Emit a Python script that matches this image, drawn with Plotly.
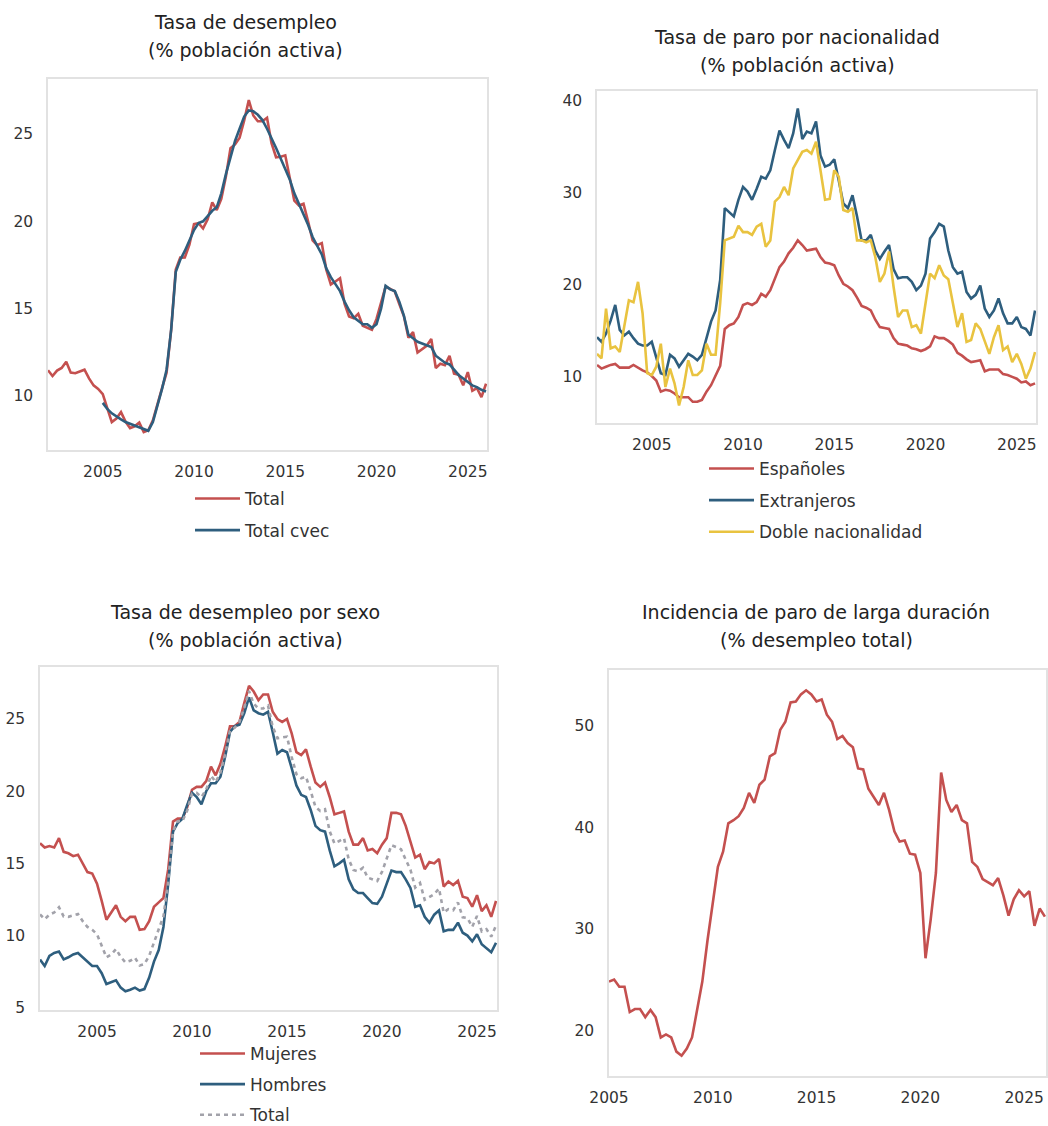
import pandas as pd
import plotly.graph_objects as go

# ---------------- data ----------------
quarters = pd.date_range("2002-01-01", "2026-01-01", freq="QS")      # 2002Q1 .. 2026Q1
quarters_ld = pd.date_range("2005-01-01", "2026-01-01", freq="QS")   # 2005Q1 .. 2026Q1
year_ticks = [2005, 2010, 2015, 2020, 2025]

total = [
    11.47, 11.14, 11.45, 11.60,
    11.96, 11.33, 11.30, 11.38,
    11.50, 11.00, 10.60, 10.40,
    10.10, 9.30, 8.50, 8.70,
    9.07, 8.53, 8.15, 8.26,
    8.47, 7.93, 8.03, 8.60,
    9.60, 10.44, 11.33, 13.79,
    17.24, 17.92, 17.93, 18.66,
    19.84, 19.89, 19.59, 20.11,
    21.08, 20.64, 21.28, 22.56,
    24.19, 24.40, 24.79, 25.77,
    26.94, 26.06, 25.73, 25.73,
    25.93, 24.47, 23.67, 23.70,
    23.78, 22.37, 21.18, 20.90,
    21.00, 20.00, 18.91, 18.63,
    18.75, 17.22, 16.38, 16.55,
    16.74, 15.28, 14.55, 14.45,
    14.70, 14.02, 13.92, 13.78,
    14.41, 15.33, 16.26, 16.13,
    15.98, 15.26, 14.57, 13.33,
    13.65, 12.48, 12.67, 12.87,
    13.26, 11.60, 11.84, 11.76,
    12.29, 11.27, 11.21, 10.61,
    11.36, 10.29, 10.45, 9.93,
    10.70,
]

total_cvec = [
    None, None, None, None,
    None, None, None, None,
    None, None, None, None,
    9.60, 9.25, 9.00, 8.80,
    8.65, 8.50, 8.40, 8.30,
    8.20, 8.10, 8.00, 8.50,
    9.40, 10.40, 11.50, 13.80,
    17.10, 17.80, 18.30, 18.90,
    19.50, 19.90, 20.00, 20.30,
    20.60, 20.80, 21.60, 22.70,
    23.70, 24.60, 25.30, 26.00,
    26.35, 26.30, 26.10, 25.80,
    25.30, 24.80, 24.20, 23.60,
    23.00, 22.40, 21.60, 21.00,
    20.40, 19.80, 19.10, 18.60,
    18.10, 17.30, 16.80, 16.40,
    16.00, 15.40, 14.90, 14.50,
    14.30, 14.10, 14.10, 13.90,
    14.10, 15.00, 16.30, 16.10,
    16.00, 15.40, 14.60, 13.50,
    13.30, 13.10, 13.00, 12.90,
    12.80, 12.30, 12.10, 11.90,
    11.80, 11.50, 11.20, 11.00,
    10.80, 10.60, 10.50, 10.35,
    10.25,
]

espanoles = [
    11.3, 10.9, 11.1, 11.3,
    11.4, 11.0, 11.0, 11.0,
    11.3, 11.0, 10.7, 10.5,
    10.1, 9.6, 8.4, 8.6,
    8.5, 8.2, 7.8, 7.8,
    7.8, 7.3, 7.3, 7.5,
    8.4, 9.1, 10.2, 11.2,
    15.2, 15.6, 15.8, 16.5,
    17.8, 18.0, 17.8, 18.1,
    19.0, 18.7, 19.4, 20.7,
    21.9, 22.5, 23.4, 24.0,
    24.8, 24.3, 23.7, 23.8,
    23.9, 23.0, 22.4, 22.3,
    22.1, 21.0, 20.1, 19.8,
    19.4, 18.6, 17.7, 17.5,
    17.2, 16.2, 15.4, 15.3,
    15.2, 14.2, 13.6, 13.5,
    13.4, 13.1, 13.0, 12.8,
    13.0, 13.3, 14.4, 14.2,
    14.2, 13.9, 13.5, 12.6,
    12.3, 11.9, 11.6, 11.7,
    11.8, 10.6, 10.8, 10.8,
    10.8, 10.3, 10.2, 10.0,
    9.8, 9.4, 9.5, 9.1,
    9.3,
]

extranjeros = [
    14.3, 13.8, 14.7, 16.1,
    17.8, 15.1, 14.5, 14.9,
    14.2, 13.6, 13.4, 13.4,
    13.8, 12.2, 10.4, 10.2,
    12.4, 12.0, 11.1, 11.8,
    12.5, 12.2, 11.8, 12.4,
    14.3, 16.0, 17.2, 20.5,
    28.3, 27.9, 27.4, 29.2,
    30.6, 30.1, 29.2, 30.4,
    31.7, 31.5, 32.4, 34.6,
    36.7, 35.7, 34.8, 36.4,
    39.1, 35.8, 36.6, 36.4,
    37.7, 34.0, 32.8, 33.0,
    33.6, 31.3, 28.8, 28.3,
    29.7, 27.4, 24.8, 24.8,
    25.4, 23.7, 22.8, 23.6,
    24.3, 21.7, 20.7, 20.8,
    20.8, 20.3, 19.4, 19.9,
    21.2, 25.0, 25.7, 26.6,
    26.3, 23.7, 21.9, 21.2,
    21.4, 19.2, 18.5, 18.9,
    19.9, 17.4, 16.5, 17.2,
    18.5, 16.9, 15.8, 15.8,
    16.5, 15.4, 15.2, 14.5,
    17.2,
]

doble_nac = [
    12.5, 12.0, 17.4, 13.1,
    13.3, 12.7, 15.5, 18.3,
    18.1, 20.3, 16.9, 10.4,
    10.2, 11.1, 13.6, 8.9,
    10.9, 9.3, 6.9, 8.9,
    11.8, 10.2, 10.2, 10.7,
    13.6, 12.4, 12.4, 18.0,
    24.8, 25.0, 25.2, 26.4,
    25.7, 25.7, 25.4, 26.3,
    26.6, 24.1, 24.8, 29.0,
    29.5, 30.6, 29.7, 32.6,
    33.5, 34.4, 34.6, 34.2,
    35.5, 32.4, 29.2, 29.3,
    32.4, 31.7, 28.1, 27.9,
    28.3, 24.8, 24.8, 24.6,
    24.8, 23.0, 20.3, 21.2,
    23.6, 19.8, 16.5, 17.2,
    17.2, 15.4, 15.6, 14.7,
    18.0, 21.2, 20.7, 22.1,
    21.0, 20.6, 18.0, 15.4,
    16.9, 13.8, 14.0, 15.8,
    15.2, 13.9, 12.5, 14.3,
    15.6, 12.9, 13.3, 11.6,
    12.5, 11.4, 9.8, 10.9,
    12.7,
]

mujeres = [
    16.4, 16.1, 16.2, 16.1,
    16.75, 15.8, 15.7, 15.5,
    15.6, 15.0, 14.4, 14.3,
    13.6, 12.4, 11.1, 11.6,
    12.1, 11.3, 11.0, 11.3,
    11.3, 10.4, 10.45, 11.0,
    12.0, 12.3, 12.6, 14.6,
    17.9, 18.1, 18.1, 18.9,
    20.1, 20.3, 20.3, 20.7,
    21.7, 21.1, 21.9, 23.1,
    24.5, 24.5, 24.8, 26.1,
    27.3, 26.9, 26.3, 26.7,
    26.7, 25.5, 25.0, 24.8,
    25.0, 24.0, 22.7, 22.5,
    22.9, 21.7, 20.6, 20.3,
    20.6, 19.6, 18.4, 18.5,
    18.6, 17.2, 16.3, 16.3,
    16.75, 15.9, 16.0, 15.7,
    16.3, 16.75, 18.5, 18.5,
    18.4, 17.6, 16.5, 15.4,
    15.6, 14.6, 15.1, 15.0,
    15.3, 13.4, 13.75, 13.5,
    13.8, 12.7, 12.6, 12.0,
    12.8, 11.7, 12.1, 11.3,
    12.4,
]

hombres = [
    8.35, 7.9, 8.6, 8.8,
    8.9, 8.35, 8.5, 8.7,
    8.8, 8.5, 8.2, 7.9,
    7.9, 7.4, 6.65, 6.8,
    6.9, 6.4, 6.15, 6.25,
    6.4, 6.2, 6.3, 7.1,
    8.2, 9.0, 10.6, 13.6,
    17.2, 17.8, 18.1, 19.05,
    19.9, 19.6, 19.1, 20.0,
    20.55, 20.55, 21.0, 22.4,
    24.1, 24.5, 24.6, 25.4,
    26.5, 25.6, 25.4, 25.3,
    25.5, 24.1, 22.6, 22.85,
    22.7, 21.6, 20.4, 19.75,
    19.6, 18.7, 17.6, 17.3,
    17.2, 15.9, 14.8, 15.0,
    15.25, 13.9, 13.2, 12.95,
    12.95, 12.6, 12.25, 12.2,
    12.7, 13.6, 14.5, 14.4,
    14.4, 13.9, 13.3, 12.0,
    12.1, 11.3, 10.9, 11.45,
    11.75, 10.3, 10.4, 10.4,
    10.9, 10.2, 10.0, 9.6,
    10.1, 9.4, 9.1, 8.85,
    9.5,
]

larga_duracion = [
    24.8, 25.0, 24.3, 24.3,
    21.8, 22.1, 22.1, 21.3,
    22.0, 21.3, 19.3, 19.6,
    19.3, 17.9, 17.5, 18.2,
    19.3, 22.0, 24.8, 28.9,
    32.5, 36.1, 37.6, 40.4,
    40.7, 41.1, 41.9, 43.4,
    42.4, 44.2, 44.7, 47.0,
    47.3, 49.6, 50.4, 52.3,
    52.4, 53.1, 53.5, 53.1,
    52.4, 52.6, 51.1, 50.4,
    48.7, 49.0, 48.3, 47.9,
    45.8, 45.7, 43.8, 43.0,
    42.2, 43.4, 41.7, 39.6,
    38.6, 38.7, 37.4, 37.3,
    35.5, 27.1, 30.9, 35.5,
    45.4, 42.7, 41.5, 42.2,
    40.7, 40.4, 36.6, 36.1,
    34.9, 34.6, 34.3, 35.0,
    33.3, 31.3, 32.9, 33.8,
    33.2, 33.7, 30.3, 32.0,
    31.2,
]

# ---------------- style ----------------
RED = "#C4504F"
BLUE = "#2E5E7E"
YELLOW = "#E9C340"
GRAY = "#A2A2AA"
FONT = "DejaVu Sans"
TXT = "#333333"
LW = 2.6
W, H = 1048, 1126


def px_x(x):
    return x / W


def px_y(y):
    return 1 - y / H


fig = go.Figure()

def add_line(x, y, name, color, xa, ya, legend, group, dash=None, show=True):
    fig.add_trace(go.Scatter(
        x=x, y=y, name=name, mode="lines",
        line=dict(color=color, width=LW, dash=dash),
        xaxis=xa, yaxis=ya, legend=legend, legendgroup=group,
        showlegend=show, connectgaps=False,
    ))

# Panel 1
add_line(quarters, total, "Total", RED, "x", "y", "legend", "a1")
add_line(quarters, total_cvec, "Total cvec", BLUE, "x", "y", "legend", "a2")
# Panel 2
add_line(quarters, espanoles, "Españoles", RED, "x2", "y2", "legend2", "b1")
add_line(quarters, extranjeros, "Extranjeros", BLUE, "x2", "y2", "legend2", "b2")
add_line(quarters, doble_nac, "Doble nacionalidad", YELLOW, "x2", "y2", "legend2", "b3")
# Panel 3
add_line(quarters, mujeres, "Mujeres", RED, "x3", "y3", "legend3", "c1")
add_line(quarters, hombres, "Hombres", BLUE, "x3", "y3", "legend3", "c2")
add_line(quarters, total, "Total", GRAY, "x3", "y3", "legend3", "c3", dash="4px,4px")
# Panel 4
add_line(quarters_ld, larga_duracion, "Larga duración", RED, "x4", "y4", "legend", "d1", show=False)

tickvals = [f"{y}-01-01" for y in year_ticks]
ticktext = [str(y) for y in year_ticks]

def xaxis(domain, anchor, rng):
    return dict(
        domain=domain, anchor=anchor, type="date", range=rng,
        tickvals=tickvals, ticktext=ticktext,
        showgrid=False, zeroline=False, automargin=False,
        showline=True, mirror=True, linecolor="#E2E2E2", linewidth=1.5,
        ticks="outside", ticklen=7, tickcolor="rgba(0,0,0,0)",
        tickfont=dict(family=FONT, size=15.5, color=TXT),
        fixedrange=True,
    )

def yaxis(domain, anchor, rng, tv):
    return dict(
        domain=domain, anchor=anchor, range=rng, tickvals=tv,
        showgrid=False, zeroline=False, automargin=False,
        showline=True, mirror=True, linecolor="#E2E2E2", linewidth=1.5,
        ticks="outside", ticklen=10, tickcolor="rgba(0,0,0,0)",
        tickfont=dict(family=FONT, size=15.5, color=TXT),
        fixedrange=True,
    )

legend_common = dict(
    bgcolor="rgba(0,0,0,0)", borderwidth=0,
    font=dict(family=FONT, size=17, color=TXT),
    tracegroupgap=6.5, itemwidth=45, orientation="v",
    xanchor="left", yanchor="top",
)

fig.update_layout(
    width=W, height=H,
    margin=dict(l=0, r=0, t=0, b=0, autoexpand=False),
    paper_bgcolor="white", plot_bgcolor="white",
    font=dict(family=FONT, color=TXT),
    xaxis=xaxis([px_x(48), px_x(487)], "y", ["2002-01-01", "2026-01-20"]),
    yaxis=yaxis([px_y(450), px_y(79)], "x", [6.9, 28.15], [10, 15, 20, 25]),
    xaxis2=xaxis([px_x(597), px_x(1036)], "y2", ["2002-01-01", "2026-01-20"]),
    yaxis2=yaxis([px_y(423), px_y(91)], "x2", [5.0, 41.0], [10, 20, 30, 40]),
    xaxis3=xaxis([px_x(40), px_x(497)], "y3", ["2002-01-01", "2026-01-20"]),
    yaxis3=yaxis([px_y(1010), px_y(667)], "x3", [4.85, 28.6], [5, 10, 15, 20, 25]),
    xaxis4=xaxis([px_x(609), px_x(1046)], "y4", ["2005-01-01", "2026-01-20"]),
    yaxis4=yaxis([px_y(1076), px_y(670)], "x4", [15.5, 55.5], [20, 30, 40, 50]),
    legend=dict(legend_common, x=px_x(190), y=px_y(481)),
    legend2=dict(legend_common, x=px_x(704), y=px_y(451)),
    legend3=dict(legend_common, x=px_x(195), y=px_y(1036), tracegroupgap=5.5),
    showlegend=True,
)

titles = [
    ("Tasa de desempleo", 245, 22),
    ("(% población activa)", 245, 50),
    ("Tasa de paro por nacionalidad", 797, 37),
    ("(% población activa)", 797, 65),
    ("Tasa de desempleo por sexo", 245, 612),
    ("(% población activa)", 245, 640),
    ("Incidencia de paro de larga duración", 816, 612),
    ("(% desempleo total)", 816, 640),
]
for text, cx, cy in titles:
    fig.add_annotation(
        text=text, x=px_x(cx), y=px_y(cy), xref="paper", yref="paper",
        xanchor="center", yanchor="middle", showarrow=False,
        font=dict(family=FONT, size=19, color="#222222"),
    )

fig.write_html(
    "out.html",
    config={"displayModeBar": False},
    post_script="document.body.style.margin='0';document.body.style.overflow='hidden';",
)
